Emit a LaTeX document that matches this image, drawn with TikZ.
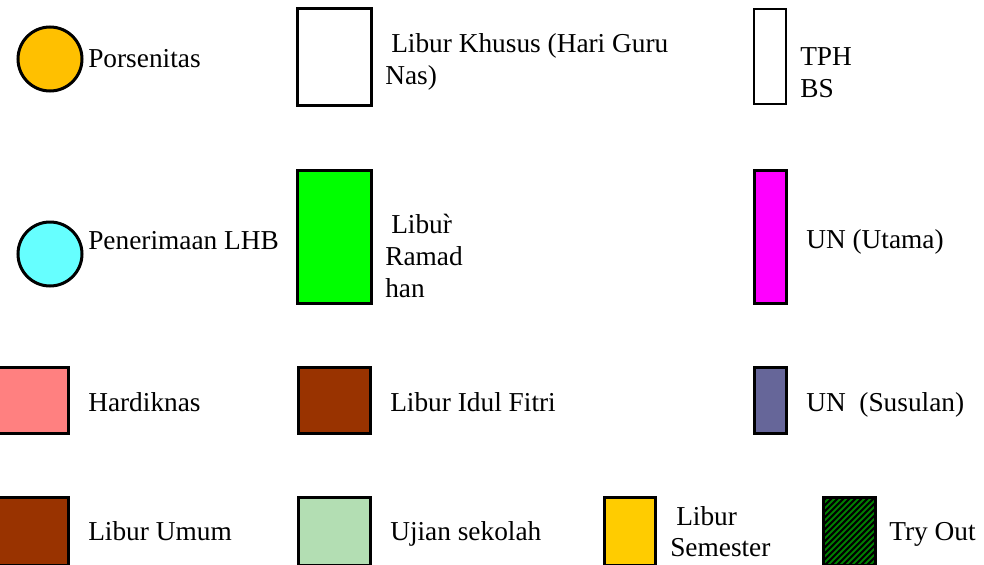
\documentclass[tikz,border=0pt]{standalone}
\usepackage{fontspec}
\setmainfont{Liberation Serif}
\definecolor{porsenitas}{HTML}{FFC000}
\definecolor{lhb}{HTML}{66FFFF}
\definecolor{ramadhan}{HTML}{00FF00}
\definecolor{utama}{HTML}{FF00FF}
\definecolor{hardiknas}{HTML}{FF8080}
\definecolor{libur}{HTML}{993300}
\definecolor{susulan}{HTML}{666699}
\definecolor{ujian}{HTML}{B3DEB3}
\definecolor{semester}{HTML}{FFCC00}
\definecolor{tryout}{HTML}{008000}

\begin{document}
\begin{tikzpicture}[x=0.75pt,y=-0.75pt,
  box/.style={draw=black,line width=2.25pt},
  thinbox/.style={draw=black,line width=1.5pt},
  lbl/.style={anchor=base west,inner sep=0pt,font=\fontsize{20.5}{24}\selectfont}]
\useasboundingbox (0,0) rectangle (984,564);

% baris 1
\draw[box,fill=porsenitas] (50,59) circle [radius=24pt];
\node[lbl] (porsenitas) at (88,67) {Porsenitas};
\draw[box,fill=white] (297,8) rectangle (371,105);
\node[lbl] (khusus) at (391,52) {Libur Khusus (Hari Guru};
\node[lbl] (khususb) at (385,84) {Nas)};
\draw[thinbox,fill=white] (754,9) rectangle (786,104);
\node[lbl] (tph) at (800,65) {TPH};
\node[lbl] (bs) at (800,97) {BS};

% baris 2
\draw[box,fill=lhb] (50,254) circle [radius=24pt];
\node[lbl] (lhb) at (88,249) {Penerimaan LHB};
\draw[box,fill=ramadhan] (297,170) rectangle (371,303);
\node[lbl] (ramadhan) at (391,233) {Libur̀};
\node[lbl] (ramadhanb) at (385,265) {Ramad};
\node[lbl] (ramadhanc) at (385,297) {han};
\draw[box,fill=utama] (754,170) rectangle (786,303);
\node[lbl] (utama) at (806,248) {UN (Utama)};

% baris 3
\draw[box,fill=hardiknas] (-2,367) rectangle (68,433);
\node[lbl] (hardiknas) at (88,411) {Hardiknas};
\draw[box,fill=libur] (298,367) rectangle (370,433);
\node[lbl] (idulfitri) at (390,411) {Libur Idul Fitri};
\draw[box,fill=susulan] (754,367) rectangle (786,433);
\node[lbl] (susulan) at (806,411) {UN\ \ (Susulan)};

% baris 4
\draw[box,fill=libur] (-2,497) rectangle (68,565);
\node[lbl] (umum) at (88,540) {Libur Umum};
\draw[box,fill=ujian] (298,497) rectangle (370,565);
\node[lbl] (ujian) at (390,540) {Ujian sekolah};
\draw[box,fill=semester] (604,497) rectangle (655,565);
\node[lbl] (semester) at (676,525) {Libur};
\node[lbl] (semesterb) at (670,556) {Semester};
\begin{scope}
\clip (823,497) rectangle (875,565);
\fill[tryout] (823,497) rectangle (875,565);
\foreach \i in {0,6,...,130}
  \draw[black,line width=1.6pt] (823+\i-70,565) -- (823+\i,495);
\end{scope}
\draw[box] (823,497) rectangle (875,565);
\node[lbl] (tryout) at (889,540) {Try Out};
\end{tikzpicture}
\end{document}
